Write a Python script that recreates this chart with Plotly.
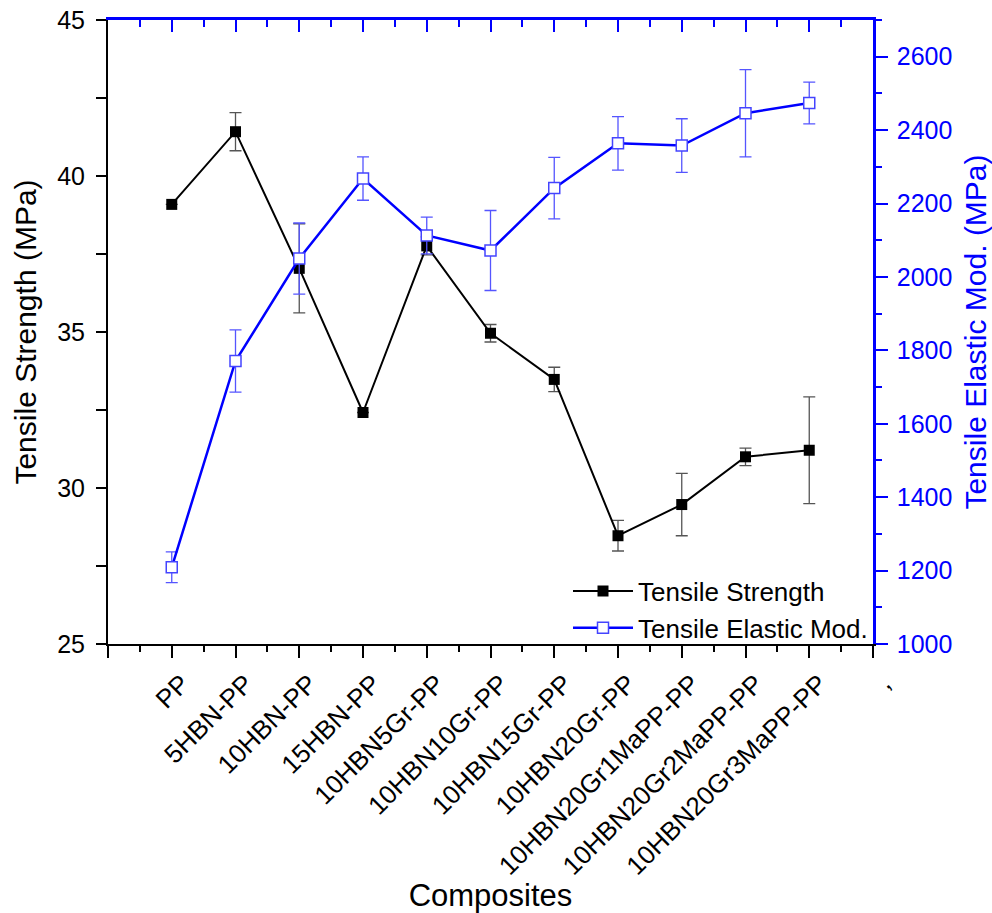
import plotly.graph_objects as go

categories = ["PP", "5HBN-PP", "10HBN-PP", "15HBN-PP", "10HBN5Gr-PP", "10HBN10Gr-PP",
              "10HBN15Gr-PP", "10HBN20Gr-PP", "10HBN20Gr1MaPP-PP", "10HBN20Gr2MaPP-PP",
              "10HBN20Gr3MaPP-PP"]
x_pos = list(range(1, len(categories) + 1))
tick_vals = list(range(0, 13))
tick_text = [""] + categories + [","]

tensile_strength = [39.09, 41.42, 37.04, 32.42, 37.76, 34.96, 33.48, 28.47, 29.47, 31.0, 31.21]
tensile_strength_err = [0.0, 0.61, 1.43, 0.0, 0.29, 0.28, 0.39, 0.49, 1.0, 0.28, 1.71]

elastic_mod = [1209, 1771, 2050, 2268, 2113, 2072, 2242, 2364, 2358, 2446, 2474]
elastic_mod_err = [42, 85, 97, 59, 50, 109, 84, 73, 73, 119, 57]

FONT = "Liberation Sans, Arial, sans-serif"
BLUE = "#0000ff"

fig = go.Figure()

fig.add_trace(go.Scatter(
    x=x_pos, y=tensile_strength, name="Tensile Strength", mode="lines+markers",
    line=dict(color="black", width=2),
    marker=dict(symbol="square", size=11, color="black"),
    error_y=dict(type="data", array=tensile_strength_err, color="#555555", thickness=1.3, width=6),
    xaxis="x", yaxis="y"))

fig.add_trace(go.Scatter(
    x=x_pos, y=elastic_mod, name="Tensile Elastic Mod.", mode="lines+markers",
    line=dict(color=BLUE, width=2.5),
    marker=dict(symbol="square", size=11, color="white", line=dict(color="#4444ff", width=1.5)),
    error_y=dict(type="data", array=elastic_mod_err, color="#5555ff", thickness=1.3, width=6),
    xaxis="x", yaxis="y2"))

# invisible trace to host the blue top axis
fig.add_trace(go.Scatter(x=[0, 12], y=[25, 25], mode="markers", marker=dict(opacity=0),
                         showlegend=False, hoverinfo="skip", xaxis="x2", yaxis="y"))

fig.update_layout(
    width=992, height=913,
    margin=dict(l=108, r=119, t=20, b=269),
    paper_bgcolor="white", plot_bgcolor="white",
    font=dict(family=FONT, size=25, color="black"),
    showlegend=True,
    legend=dict(x=1.0, y=-0.012, xanchor="right", yanchor="bottom",
                bgcolor="rgba(0,0,0,0)", font=dict(size=26, family=FONT),
                tracegroupgap=0, itemwidth=60),
    xaxis=dict(
        automargin=False,
        range=[0, 12], tickmode="array", tickvals=tick_vals, ticktext=tick_text,
        tickangle=-45, showline=True, linecolor="black", linewidth=2,
        ticks="outside", ticklen=12, tickwidth=2, tickcolor="black",
        minor=dict(dtick=0.5, tick0=0, ticks="outside", ticklen=6, tickwidth=2, tickcolor="black"),
        showgrid=False, zeroline=False,
        ticklabelshift=10,
        tickfont=dict(size=26, family=FONT),
        title=dict(text="Composites", font=dict(size=31, family=FONT), standoff=6),
    ),
    xaxis2=dict(
        automargin=False,
        overlaying="x", side="top", anchor="y", range=[0, 12],
        tickmode="array", tickvals=tick_vals, showticklabels=False,
        showline=True, linecolor=BLUE, linewidth=2.5,
        ticks="inside", ticklen=12, tickwidth=2, tickcolor=BLUE,
        minor=dict(dtick=0.5, tick0=0, ticks="inside", ticklen=7, tickwidth=2, tickcolor=BLUE),
        showgrid=False, zeroline=False,
    ),
    yaxis=dict(
        automargin=False,
        range=[25, 45], tickmode="array", tickvals=[25, 30, 35, 40, 45],
        showline=True, linecolor="black", linewidth=2,
        ticks="outside", ticklen=10, tickwidth=2, tickcolor="black",
        minor=dict(dtick=2.5, tick0=25, ticks="outside", ticklen=10, tickwidth=2, tickcolor="black"),
        showgrid=False, zeroline=False,
        ticklabelstandoff=6,
        tickfont=dict(size=25, family=FONT),
        title=dict(text="Tensile Strength (MPa)", font=dict(size=30, family=FONT), standoff=12),
    ),
    yaxis2=dict(
        automargin=False,
        overlaying="y", side="right", anchor="x", range=[1000, 2700],
        tickmode="array", tickvals=[1000, 1200, 1400, 1600, 1800, 2000, 2200, 2400, 2600],
        showline=True, linecolor=BLUE, linewidth=2.5,
        ticks="outside", ticklen=12, tickwidth=2, tickcolor=BLUE,
        minor=dict(dtick=100, tick0=1000, ticks="outside", ticklen=6, tickwidth=2, tickcolor=BLUE),
        showgrid=False, zeroline=False,
        ticklabelstandoff=4,
        tickfont=dict(size=25, family=FONT, color=BLUE),
        title=dict(text="Tensile Elastic Mod. (MPa)", font=dict(size=30, family=FONT, color=BLUE), standoff=14),
    ),
)

fig.write_html("out.html")
